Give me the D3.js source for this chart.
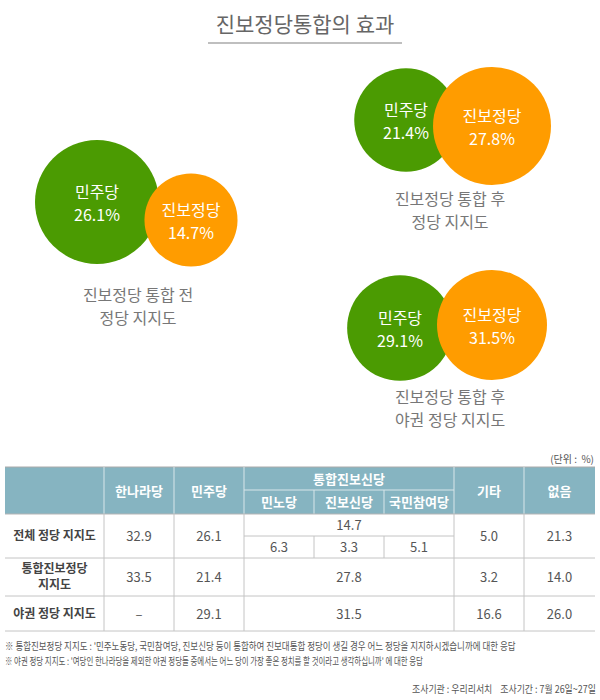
<!DOCTYPE html>
<html>
<head>
<meta charset="utf-8">
<script src="https://cdn.jsdelivr.net/npm/d3@7"></script>
<style>
  body { margin: 0; background: #fff; }
  svg { display: block; font-family: "Noto Sans CJK KR", "Noto Sans", sans-serif; }
</style>
</head>
<body>
<svg id="chart" width="600" height="700"></svg>
<script>
// bubble data
const parties = ["민주당", "진보정당"];
const beforeVals = [26.1, 14.7];
const afterVals = [21.4, 27.8];
const oppositionVals = [29.1, 31.5];
const captions = [
  ["진보정당 통합 전", "정당 지지도"],
  ["진보정당 통합 후", "정당 지지도"],
  ["진보정당 통합 후", "야권 정당 지지도"]
];

// table data
const colHeads = ["한나라당", "민주당", "통합진보신당", "기타", "없음"];
const subHeads = ["민노당", "진보신당", "국민참여당"];
const rowHeads = [["전체 정당 지지도"], ["통합진보정당", "지지도"], ["야권 정당 지지도"]];
const hannara = ["32.9", "33.5", "–"];
const minju = ["26.1", "21.4", "29.1"];
const jinbo = ["14.7", "27.8", "31.5"];
const jinboSplit = ["6.3", "3.3", "5.1"];
const etc = ["5.0", "3.2", "16.6"];
const none = ["21.3", "14.0", "26.0"];
const notes = [
  "※ 통합진보정당 지지도 : '민주노동당, 국민참여당, 진보신당 등이 통합하여 진보대통합 정당이 생길 경우 어느 정당을 지지하시겠습니까에 대한 응답",
  "※ 야권 정당 지지도 : '여당인 한나라당을 제외한 야권 정당들 중에서는 어느 당이 가장 좋은 정치를 할 것이라고 생각하십니까' 에 대한 응답"
];
const source = "조사기관 : 우리리서치    조사기간 : 7월 26일~27일";

const colors = ["#4b9b02", "#ff9c00"];
const svg = d3.select("#chart");

// title
svg.append("text")
  .attr("x", 305).attr("y", 32)
  .attr("text-anchor", "middle")
  .attr("font-size", 21)
  .attr("fill", "#666")
  .text("진보정당통합의 효과");
svg.append("line")
  .attr("x1", 208).attr("x2", 402).attr("y1", 43).attr("y2", 43)
  .attr("stroke", "#aaa").attr("stroke-width", 1.5);

// bubble groups
const panels = [
  { vals: beforeVals, cx: [97, 191], cy: [202, 220], maxR: 62, cap: captions[0], capX: 138, capY: 295 },
  { vals: afterVals, cx: [406, 492], cy: [120, 126], maxR: 59, cap: captions[1], capX: 450, capY: 199 },
  { vals: oppositionVals, cx: [400, 492], cy: [328, 325], maxR: 55, cap: captions[2], capX: 450, capY: 397 }
];

panels.forEach(p => {
  const r = d3.scaleSqrt().domain([0, d3.max(p.vals)]).range([0, p.maxR]);
  const g = svg.append("g");
  g.selectAll("circle")
    .data(p.vals)
    .join("circle")
    .attr("cx", (d, i) => p.cx[i])
    .attr("cy", (d, i) => p.cy[i])
    .attr("r", d => r(d))
    .attr("fill", (d, i) => colors[i]);

  g.selectAll(".name")
    .data(p.vals)
    .join("text")
    .attr("class", "name")
    .attr("x", (d, i) => p.cx[i])
    .attr("y", (d, i) => p.cy[i] - 4)
    .attr("text-anchor", "middle")
    .attr("font-size", 16)
    .attr("fill", "#fff")
    .text((d, i) => parties[i]);

  g.selectAll(".val")
    .data(p.vals)
    .join("text")
    .attr("class", "val")
    .attr("x", (d, i) => p.cx[i])
    .attr("y", (d, i) => p.cy[i] + 19)
    .attr("text-anchor", "middle")
    .attr("font-size", 16)
    .attr("fill", "#fff")
    .text(d => d.toFixed(1) + "%");

  g.selectAll(".cap")
    .data(p.cap)
    .join("text")
    .attr("class", "cap")
    .attr("x", p.capX)
    .attr("y", (d, i) => p.capY + 6 + i * 23)
    .attr("text-anchor", "middle")
    .attr("font-size", 16)
    .attr("fill", "#777")
    .text(d => d);
});

// table
const colX = [5, 104, 174, 244, 314, 384, 454, 524, 595];
const headTop = 467, headMid = 490, headBot = 514;
const rowY = [514, 558, 596, 631];
const rowSub = 536;
const lineColor = "#c4c4c4";
const t = svg.append("g");

t.append("text")
  .attr("x", 594).attr("y", 463)
  .attr("text-anchor", "end")
  .attr("font-size", 10)
  .attr("fill", "#555")
  .attr("xml:space", "preserve")
  .text("(단위 :  %)");

t.append("rect")
  .attr("x", colX[0]).attr("y", headTop)
  .attr("width", colX[8] - colX[0]).attr("height", headBot - headTop)
  .attr("fill", "#86b4c1");
t.append("line")
  .attr("x1", colX[0]).attr("x2", colX[8]).attr("y1", headTop).attr("y2", headTop)
  .attr("stroke", "#aaa");

// header separators
[1, 2, 3, 6, 7].forEach(i => {
  t.append("line")
    .attr("x1", colX[i]).attr("x2", colX[i]).attr("y1", headTop).attr("y2", headBot)
    .attr("stroke", "#d8e6ea");
});
[4, 5].forEach(i => {
  t.append("line")
    .attr("x1", colX[i]).attr("x2", colX[i]).attr("y1", headMid).attr("y2", headBot)
    .attr("stroke", "#d8e6ea");
});
t.append("line")
  .attr("x1", colX[3]).attr("x2", colX[6]).attr("y1", headMid).attr("y2", headMid)
  .attr("stroke", "#d8e6ea");

// header text
const headPos = [
  [(colX[1] + colX[2]) / 2, (headTop + headBot) / 2],
  [(colX[2] + colX[3]) / 2, (headTop + headBot) / 2],
  [(colX[3] + colX[6]) / 2, (headTop + headMid) / 2],
  [(colX[6] + colX[7]) / 2, (headTop + headBot) / 2],
  [(colX[7] + colX[8]) / 2, (headTop + headBot) / 2]
];
t.selectAll(".head")
  .data(colHeads)
  .join("text")
  .attr("class", "head")
  .attr("x", (d, i) => headPos[i][0])
  .attr("y", (d, i) => headPos[i][1] + 5)
  .attr("text-anchor", "middle")
  .attr("font-size", 13)
  .attr("font-weight", "bold")
  .attr("fill", "#fff")
  .text(d => d);
t.selectAll(".sub")
  .data(subHeads)
  .join("text")
  .attr("class", "sub")
  .attr("x", (d, i) => (colX[3 + i] + colX[4 + i]) / 2)
  .attr("y", (headMid + headBot) / 2 + 5)
  .attr("text-anchor", "middle")
  .attr("font-size", 13)
  .attr("font-weight", "bold")
  .attr("fill", "#fff")
  .text(d => d);

// body lines
rowY.forEach((y, i) => {
  t.append("line")
    .attr("x1", colX[0]).attr("x2", colX[8]).attr("y1", y).attr("y2", y)
    .attr("stroke", i === 0 ? "#b5b5b5" : lineColor);
});
[1, 2, 3, 6, 7].forEach(i => {
  t.append("line")
    .attr("x1", colX[i]).attr("x2", colX[i]).attr("y1", rowY[0]).attr("y2", rowY[3])
    .attr("stroke", lineColor);
});
[4, 5].forEach(i => {
  t.append("line")
    .attr("x1", colX[i]).attr("x2", colX[i]).attr("y1", rowSub).attr("y2", rowY[1])
    .attr("stroke", lineColor);
});
t.append("line")
  .attr("x1", colX[3]).attr("x2", colX[6]).attr("y1", rowSub).attr("y2", rowSub)
  .attr("stroke", lineColor);

// row labels
rowHeads.forEach((lines, r) => {
  const mid = (rowY[r] + rowY[r + 1]) / 2;
  t.selectAll(".rl" + r)
    .data(lines)
    .join("text")
    .attr("x", (colX[0] + colX[1]) / 2)
    .attr("y", (d, i) => mid + 4 + (i - (lines.length - 1) / 2) * 16)
    .attr("text-anchor", "middle")
    .attr("font-size", 12)
    .attr("font-weight", "bold")
    .attr("fill", "#444")
    .text(d => d);
});

// values
const valStyle = sel => sel
  .attr("text-anchor", "middle")
  .attr("font-size", 13)
  .attr("fill", "#555");

const colVals = [[hannara, 1], [minju, 2], [etc, 6], [none, 7]];
colVals.forEach(([vals, c]) => {
  t.selectAll(".v" + c)
    .data(vals)
    .join("text")
    .attr("x", (colX[c] + colX[c + 1]) / 2)
    .attr("y", (d, r) => (rowY[r] + rowY[r + 1]) / 2 + 5)
    .call(valStyle)
    .text(d => d);
});
t.selectAll(".vj")
  .data(jinbo)
  .join("text")
  .attr("x", (colX[3] + colX[6]) / 2)
  .attr("y", (d, r) => r === 0 ? (rowY[0] + rowSub) / 2 + 5 : (rowY[r] + rowY[r + 1]) / 2 + 5)
  .call(valStyle)
  .text(d => d);
t.selectAll(".vs")
  .data(jinboSplit)
  .join("text")
  .attr("x", (d, i) => (colX[3 + i] + colX[4 + i]) / 2)
  .attr("y", (rowSub + rowY[1]) / 2 + 5)
  .call(valStyle)
  .text(d => d);

// notes: Noto is wider than the original font, so squeeze each line horizontally
function squeeze(sel, x, y, target, anchorEnd) {
  const w = sel.node().getComputedTextLength();
  const k = Math.min(1, target / w);
  const x0 = anchorEnd ? x - w * k : x;
  sel.attr("transform", `translate(${x0},${y}) scale(${k},1)`);
}
const noteLen = [511, 419];
notes.forEach((n, i) => {
  const tx = svg.append("text")
    .attr("class", "note")
    .attr("font-size", 10)
    .attr("fill", "#555")
    .text(n);
  squeeze(tx, 5, 650 + i * 15, noteLen[i], false);
});

const src = svg.append("text")
  .attr("font-size", 10.5)
  .attr("fill", "#555")
  .attr("xml:space", "preserve")
  .text(source);
squeeze(src, 596, 693, 184, true);
</script>
</body>
</html>
